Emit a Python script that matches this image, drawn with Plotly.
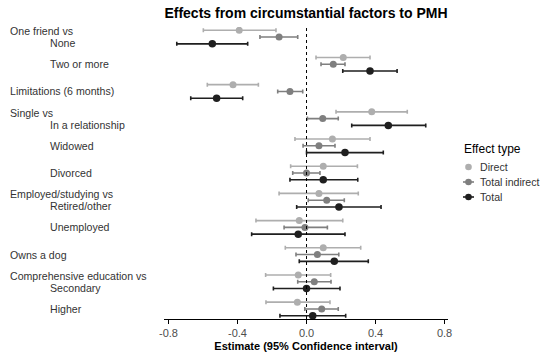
import plotly.graph_objects as go

# --- data ---------------------------------------------------------------
categories = ["None", "Two or more", "Limitations (6 months)", "In a relationship",
              "Widowed", "Divorced", "Retired/other", "Unemployed", "Owns a dog",
              "Secondary", "Higher"]
headers = {"None": "One friend vs", "In a relationship": "Single vs",
           "Retired/other": "Employed/studying vs",
           "Secondary": "Comprehensive education vs"}
main_labels = ["Limitations (6 months)", "Owns a dog"]

effect_types = ["Direct", "Total indirect", "Total"]

direct_est = [-0.390, 0.213, -0.426, 0.378, 0.150, 0.097, 0.072, -0.042, 0.097, -0.048, -0.053]
direct_lo  = [-0.598, 0.055, -0.575, 0.171, -0.067, -0.092, -0.159, -0.293, -0.123, -0.237, -0.235]
direct_hi  = [-0.177, 0.368, -0.279, 0.584, 0.368, 0.295, 0.300, 0.210, 0.314, 0.140, 0.136]

indirect_est = [-0.159, 0.155, -0.096, 0.094, 0.072, 0.000, 0.117, -0.009, 0.063, 0.045, 0.088]
indirect_lo  = [-0.270, 0.084, -0.167, 0.005, -0.020, -0.080, 0.010, -0.130, -0.061, -0.051, -0.010]
indirect_hi  = [-0.051, 0.223, -0.022, 0.184, 0.165, 0.078, 0.219, 0.121, 0.187, 0.142, 0.184]

total_est = [-0.546, 0.368, -0.521, 0.474, 0.223, 0.097, 0.188, -0.048, 0.161, 0.000, 0.036]
total_lo  = [-0.752, 0.210, -0.671, 0.262, 0.000, -0.096, -0.057, -0.318, -0.042, -0.192, -0.154]
total_hi  = [-0.341, 0.525, -0.370, 0.691, 0.445, 0.297, 0.432, 0.223, 0.358, 0.194, 0.227]

x_ticks = [-0.8, -0.4, 0.0, 0.4, 0.8]
x_tick_labels = ["-0.8", "-0.4", "0.0", "0.4", "0.8"]

# --- styling ------------------------------------------------------------
colors = {"Direct": "#AEAEAE", "Total indirect": "#7F7F7F", "Total": "#1F1F1F"}
dodge = {"Direct": -0.25, "Total indirect": 0.0, "Total": 0.25}
series = {"Direct": (direct_est, direct_lo, direct_hi),
          "Total indirect": (indirect_est, indirect_lo, indirect_hi),
          "Total": (total_est, total_lo, total_hi)}
FONT = "Liberation Sans, Arial, sans-serif"

W, H = 550, 352
PLOT_L, PLOT_R, PLOT_T, PLOT_B = 164, 448, 27, 319   # window pixels
ML, MR = PLOT_L, W - PLOT_R
MT, MB = PLOT_T, H - PLOT_B
PW, PH = PLOT_R - PLOT_L, PLOT_B - PLOT_T


def px_x(px):
    return (px - PLOT_L) / PW


def px_y(py):
    return (PLOT_B - py) / PH


fig = go.Figure()
pos = list(range(len(categories)))
for et in effect_types:
    est, lo, hi = series[et]
    fig.add_trace(go.Scatter(
        x=est, y=[p + dodge[et] for p in pos], mode="markers", name=et,
        marker=dict(color=colors[et], size=7.5 if et == "Total" else 7),
        error_x=dict(type="data", symmetric=False,
                     array=[h - e for h, e in zip(hi, est)],
                     arrayminus=[e - l for e, l in zip(est, lo)],
                     color=colors[et], thickness=1.6, width=2),
        showlegend=False, hoverinfo="skip"))

fig.add_vline(x=0, line=dict(color="black", width=1, dash="3px,3px"))

# y labels as left-aligned annotations
annotations = []
lab_font = dict(size=10.6, color="#333333", family=FONT)
for p, c in zip(pos, categories):
    if c in headers:
        annotations.append(dict(text=headers[c], x=0, xref="paper", xshift=-156,
                                y=p, yref="y", yshift=6, xanchor="left",
                                showarrow=False, font=lab_font))
        annotations.append(dict(text=c, x=0, xref="paper", xshift=-116,
                                y=p, yref="y", yshift=-6, xanchor="left",
                                showarrow=False, font=lab_font))
    elif c in main_labels:
        annotations.append(dict(text=c, x=0, xref="paper", xshift=-156,
                                y=p, yref="y", xanchor="left",
                                showarrow=False, font=lab_font))
    else:
        annotations.append(dict(text=c, x=0, xref="paper", xshift=-116,
                                y=p, yref="y", xanchor="left",
                                showarrow=False, font=lab_font))

# legend (drawn manually to match the compact ggplot key)
shapes = []
annotations.append(dict(text="Effect type", x=px_x(462), y=px_y(149), xref="paper",
                        yref="paper", xanchor="left", yanchor="middle", showarrow=False,
                        font=dict(size=12, color="black", family=FONT)))
for i, et in enumerate(effect_types):
    cy = 167 + 15 * i
    shapes.append(dict(type="line", xref="paper", yref="paper",
                       x0=px_x(463), x1=px_x(474), y0=px_y(cy), y1=px_y(cy),
                       line=dict(color=colors[et], width=1.6)))
    shapes.append(dict(type="circle", xref="paper", yref="paper",
                       x0=px_x(468.5 - 3.3), x1=px_x(468.5 + 3.3),
                       y0=px_y(cy + 3.3), y1=px_y(cy - 3.3),
                       fillcolor=colors[et], line=dict(color=colors[et], width=0)))
    annotations.append(dict(text=et, x=px_x(478), y=px_y(cy), xref="paper", yref="paper",
                            xanchor="left", yanchor="middle", showarrow=False,
                            font=dict(size=10.6, color="#333333", family=FONT)))

fig.update_layout(
    width=W, height=H,
    margin=dict(l=ML, r=MR, t=MT, b=MB, autoexpand=False),
    paper_bgcolor="white", plot_bgcolor="white",
    font=dict(family=FONT, size=11, color="#333333"),
    showlegend=False,
    title=dict(text="<b>Effects from circumstantial factors to PMH</b>",
               x=0.5, xref="paper", xanchor="center", y=1 - 13.5 / H,
               yanchor="middle",
               font=dict(size=14, color="black", family=FONT)),
    xaxis=dict(range=[-0.826, 0.82], tickvals=x_ticks, ticktext=x_tick_labels,
               showgrid=False, zeroline=False, showline=True, linecolor="black",
               linewidth=1, ticks="outside", ticklen=4, tickcolor="black",
               automargin=False,
               tickfont=dict(size=11, color="#4D4D4D"),
               title=dict(text="<b>Estimate (95% Confidence interval)</b>",
                          font=dict(size=11, color="black"), standoff=4)),
    yaxis=dict(range=[10.37, -0.37], showgrid=False, zeroline=False, automargin=False,
               showticklabels=False, showline=False, ticks=""),
    annotations=annotations,
    shapes=shapes,
)

# remove the browser's default 8px body margin so the figure fills the window
fig.write_html("out.html",
               config={"displayModeBar": False, "staticPlot": True},
               post_script="document.body.style.margin='0px';"
                           "document.body.style.overflow='hidden';")
